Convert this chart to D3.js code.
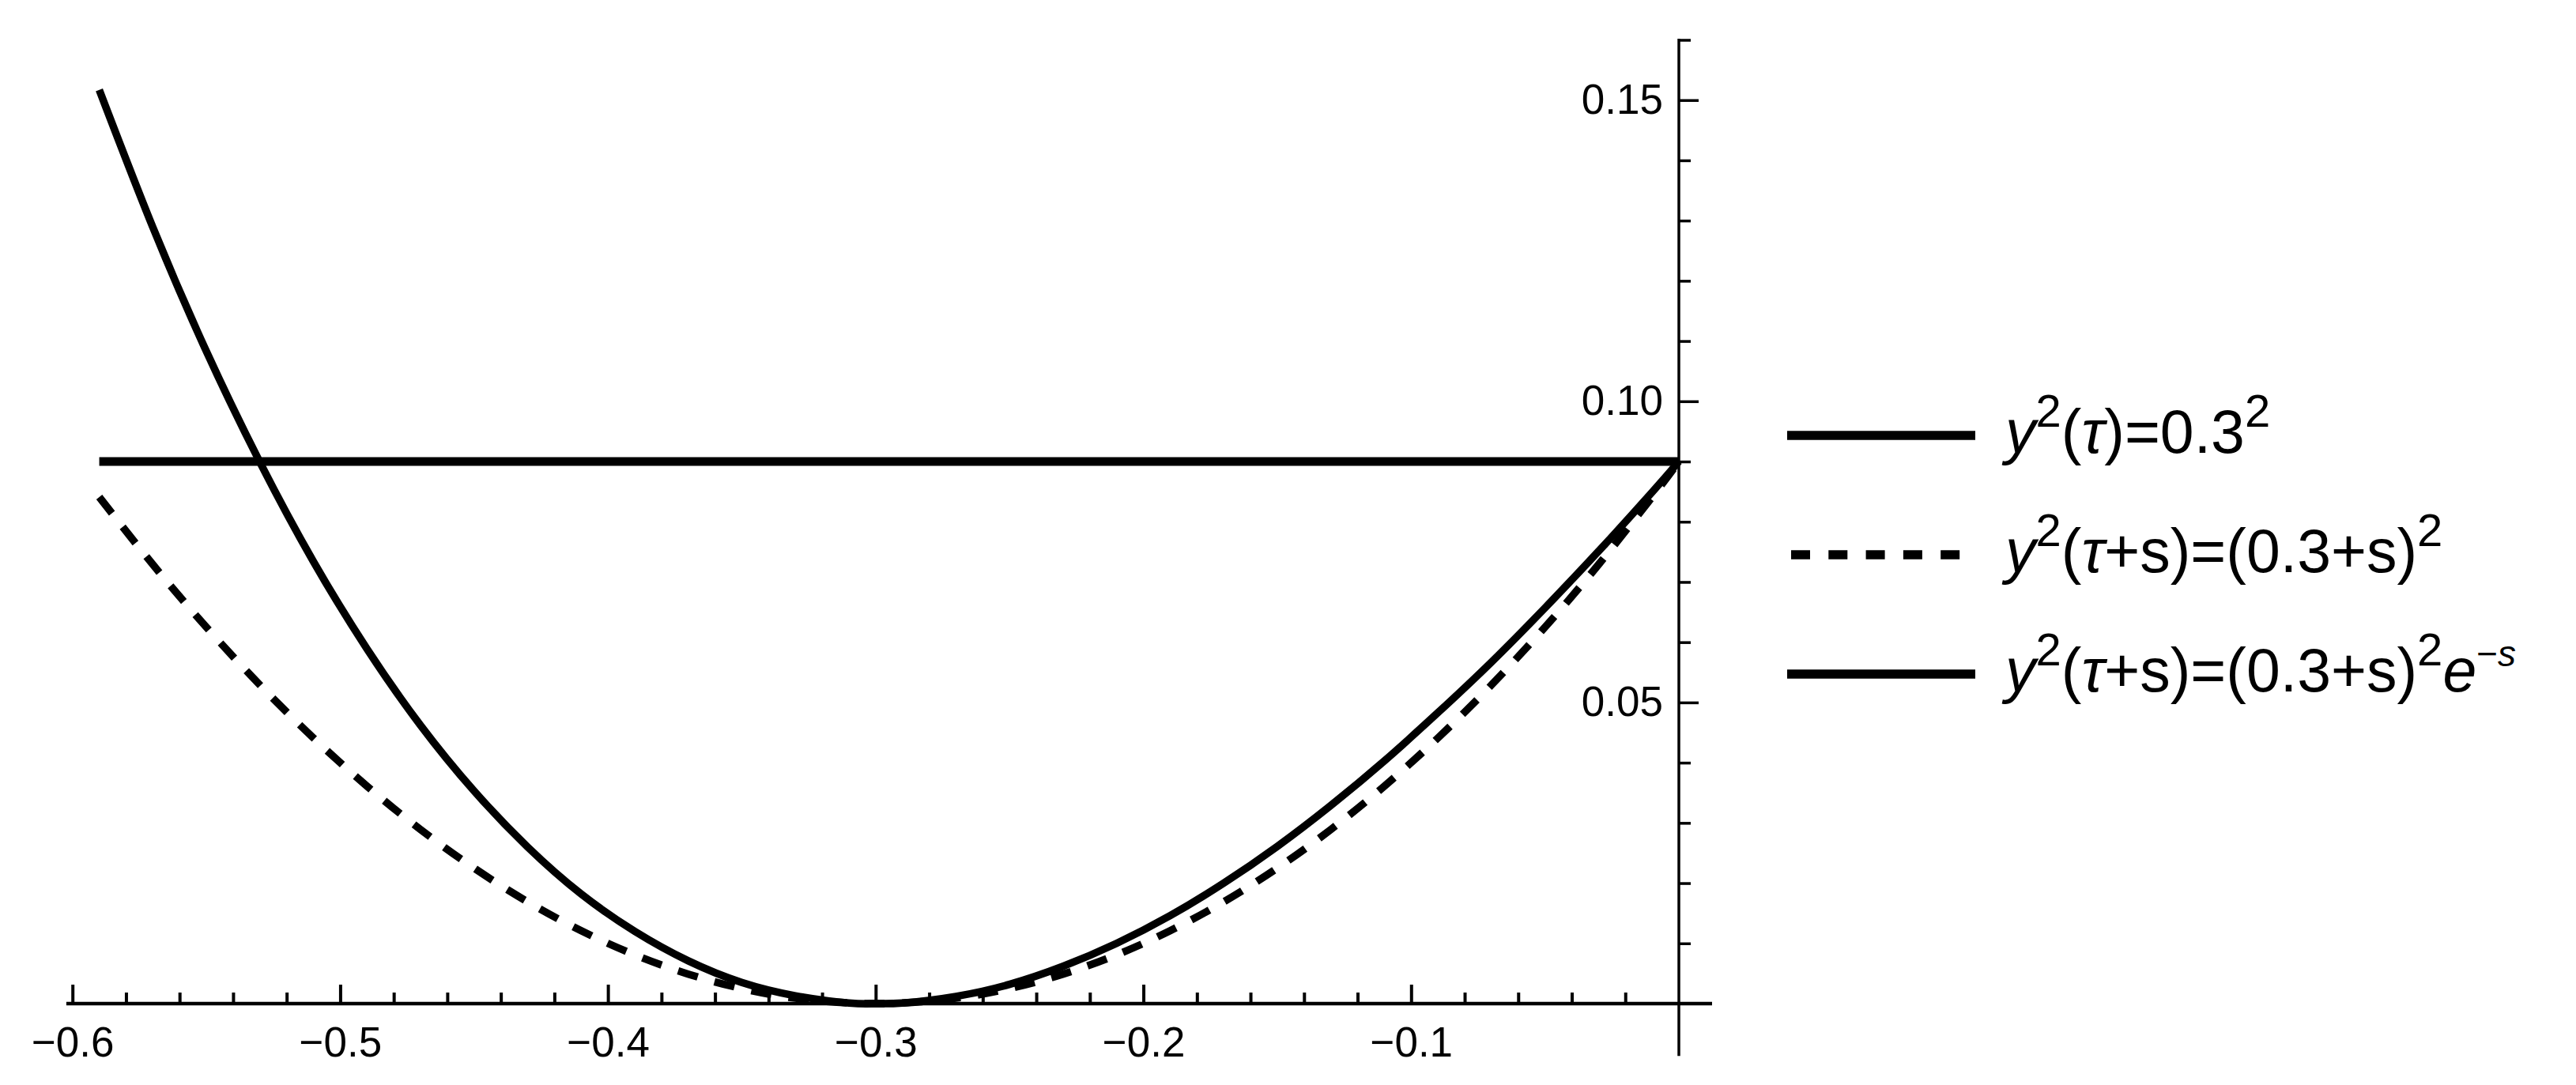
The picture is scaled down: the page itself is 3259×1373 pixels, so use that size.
<!DOCTYPE html>
<html>
<head>
<meta charset="utf-8">
<script src="https://cdn.jsdelivr.net/npm/d3@7/dist/d3.min.js"></script>
<style>
  html, body { margin: 0; padding: 0; background: #fff; }
  svg { display: block; }
  text { font-family: "Liberation Sans", Arial, sans-serif; fill: #000; }
</style>
</head>
<body>
<svg id="chart" width="3259" height="1373"></svg>
<script>
// ---- data ----
const sValues = [-0.59,-0.57,-0.55,-0.53,-0.51,-0.49,-0.47,-0.45,-0.43,-0.41,-0.39,-0.37,-0.35,-0.33,-0.31,-0.30,
                 -0.29,-0.27,-0.25,-0.23,-0.21,-0.19,-0.17,-0.15,-0.13,-0.11,-0.09,-0.07,-0.05,-0.03,-0.01,0.00];
const dashedValues = [0.0841,0.0729,0.0625,0.0529,0.0441,0.0361,0.0289,0.0225,0.0169,0.0121,0.0081,0.0049,0.0025,0.0009,0.0001,0.0000,
                      0.0001,0.0009,0.0025,0.0049,0.0081,0.0121,0.0169,0.0225,0.0289,0.0361,0.0441,0.0529,0.0625,0.0729,0.0841,0.0900];
const solidValues = [0.1517,0.1289,0.1083,0.0899,0.0734,0.0589,0.0462,0.0353,0.0260,0.0182,0.0120,0.0071,0.0035,0.0013,0.0001,0.0000,
                     0.0001,0.0012,0.0032,0.0062,0.0100,0.0146,0.0200,0.0261,0.0329,0.0403,0.0483,0.0567,0.0657,0.0751,0.0849,0.0900];
const flatS = [-0.59, 0.00];
const flatValues = [0.09, 0.09];

const xMajorTicks = [-0.6,-0.5,-0.4,-0.3,-0.2,-0.1];
const xTickLabels = ["\u22120.6","\u22120.5","\u22120.4","\u22120.3","\u22120.2","\u22120.1"];
const xMinorTicks = [-0.58,-0.56,-0.54,-0.52,-0.48,-0.46,-0.44,-0.42,-0.38,-0.36,-0.34,-0.32,
                     -0.28,-0.26,-0.24,-0.22,-0.18,-0.16,-0.14,-0.12,-0.08,-0.06,-0.04,-0.02];
const yMajorTicks = [0.05, 0.10, 0.15];
const yTickLabels = ["0.05","0.10","0.15"];
const yMinorTicks = [0.01,0.02,0.03,0.04,0.06,0.07,0.08,0.09,0.11,0.12,0.13,0.14,0.16];

const legendLabels = [
  [["y","i"],["2","sup"],["(","n"],["\u03c4","i"],[")=0.3","n"],["2","sup"]],
  [["y","i"],["2","sup"],["(","n"],["\u03c4","i"],["+s)=(0.3+s)","n"],["2","sup"]],
  [["y","i"],["2","sup"],["(","n"],["\u03c4","i"],["+s)=(0.3+s)","n"],["2","sup"],["e","i"],["\u2212","sup2"],["s","sup2i"]]
];
const legendStyles = ["solidThick","dashed","solid"];

// ---- scales ----
const svg = d3.select("#chart");
const x = d3.scaleLinear().domain([-0.6, 0]).range([91.7, 2124]);
const y = d3.scaleLinear().domain([0, 0.15]).range([1270, 126.7]);

// ---- axes ----
const gx = svg.append("g").attr("transform", `translate(0,${y(0)})`);
gx.append("line").attr("x1", x(-0.6023)).attr("x2", x(0.0124)).attr("y1", 0).attr("y2", 0)
  .attr("stroke", "#000").attr("stroke-width", 4.5);
const xMinorAxis = d3.axisBottom(x).tickValues(xMinorTicks).tickFormat("").tickSizeInner(-14).tickSizeOuter(0);
const xMajorAxis = d3.axisBottom(x).tickValues(xMajorTicks)
  .tickFormat((d, i) => xTickLabels[i]).tickSizeInner(-24).tickSizeOuter(0).tickPadding(29);
const gxMinor = gx.append("g").call(xMinorAxis);
const gxMajor = gx.append("g").call(xMajorAxis);
[gxMinor, gxMajor].forEach(g => {
  g.select(".domain").remove();
  g.selectAll(".tick line").attr("stroke", "#000").attr("stroke-width", 4);
});
gxMajor.selectAll(".tick text").attr("font-size", 53).attr("font-family", "Liberation Sans, Arial, sans-serif").attr("fill", "#000");

const gy = svg.append("g").attr("transform", `translate(${x(0)},0)`);
gy.append("line").attr("x1", 0).attr("x2", 0).attr("y1", y(0.1602)).attr("y2", y(-0.0087))
  .attr("stroke", "#000").attr("stroke-width", 3.5);
const yMinorAxis = d3.axisLeft(y).tickValues(yMinorTicks).tickFormat("").tickSizeInner(-15).tickSizeOuter(0);
const yMajorAxis = d3.axisLeft(y).tickValues(yMajorTicks)
  .tickFormat((d, i) => yTickLabels[i]).tickSizeInner(-25).tickSizeOuter(0).tickPadding(20);
const gyMinor = gy.append("g").call(yMinorAxis);
const gyMajor = gy.append("g").call(yMajorAxis);
[gyMinor, gyMajor].forEach(g => {
  g.select(".domain").remove();
  g.selectAll(".tick line").attr("stroke", "#000").attr("stroke-width", 3.5);
});
gyMajor.selectAll(".tick text").attr("font-size", 53).attr("font-family", "Liberation Sans, Arial, sans-serif").attr("fill", "#000");

// ---- series ----
const line = d3.line().x(d => x(d[0])).y(d => y(d[1])).curve(d3.curveNatural);
const flatLine = d3.line().x(d => x(d[0])).y(d => y(d[1]));

svg.append("path").datum(flatS.map((s, i) => [s, flatValues[i]]))
  .attr("d", flatLine).attr("fill", "none").attr("stroke", "#000").attr("stroke-width", 11);
svg.append("path").datum(sValues.map((s, i) => [s, dashedValues[i]]))
  .attr("d", line).attr("fill", "none").attr("stroke", "#000").attr("stroke-width", 9.5)
  .attr("stroke-dasharray", "26,22");
svg.append("path").datum(sValues.map((s, i) => [s, solidValues[i]]))
  .attr("d", line).attr("fill", "none").attr("stroke", "#000").attr("stroke-width", 9.5);

// ---- legend ----
const legendY = d3.scaleLinear().domain([0, 2]).range([551, 853]);
const leg = svg.append("g");
legendLabels.forEach((segs, i) => {
  const yy = legendY(i);
  const st = legendStyles[i];
  const ln = leg.append("line").attr("x1", st === "dashed" ? 2266 : 2261).attr("x2", st === "dashed" ? 2480 : 2499)
    .attr("y1", yy).attr("y2", yy).attr("stroke", "#000").attr("stroke-width", 11.5);
  if (st === "dashed") ln.attr("stroke-dasharray", "24,23.3");
  const t = leg.append("text").attr("x", 2537).attr("y", yy + 22).attr("font-size", 77);
  let shift = 0;
  segs.forEach(([txt, kind]) => {
    const ts = t.append("tspan").text(txt);
    let target = 0, size = 77, italic = false;
    if (kind === "i") italic = true;
    if (kind === "sup") { target = -33; size = 58; }
    if (kind === "sup2") { target = -32; size = 46; }
    if (kind === "sup2i") { target = -32; size = 46; italic = true; }
    ts.attr("dy", target - shift).attr("font-size", size);
    if (italic) ts.attr("font-style", "italic");
    shift = target;
  });
});
</script>
</body>
</html>
